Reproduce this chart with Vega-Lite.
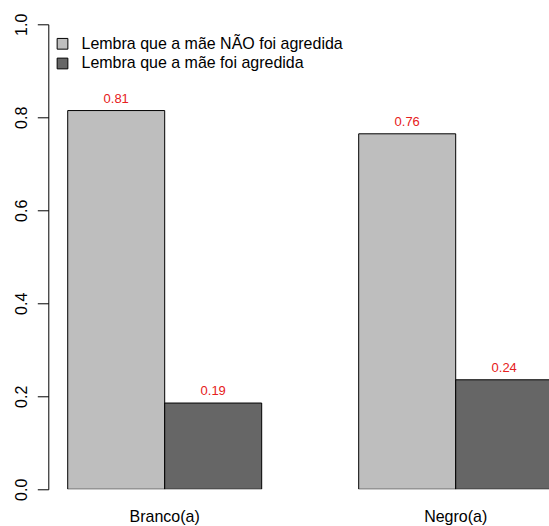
{
  "$schema": "https://vega.github.io/schema/vega-lite/v6.json",
  "width": 501,
  "height": 465,
  "autosize": {"type": "none"},
  "padding": {"left": 48.3, "top": 24.3, "right": 0, "bottom": 36.4},
  "background": "white",
  "config": {"view": {"stroke": null}, "font": "Liberation Sans"},
  "data": {
    "values": [
      {"grupo": "Branco(a)", "lembra": "Lembra que a mãe NÃO foi agredida", "prop": 0.8145},
      {"grupo": "Branco(a)", "lembra": "Lembra que a mãe foi agredida", "prop": 0.1855},
      {"grupo": "Negro(a)", "lembra": "Lembra que a mãe NÃO foi agredida", "prop": 0.7645},
      {"grupo": "Negro(a)", "lembra": "Lembra que a mãe foi agredida", "prop": 0.2355}
    ]
  },
  "encoding": {
    "x": {
      "field": "grupo",
      "type": "nominal",
      "sort": ["Branco(a)", "Negro(a)"],
      "scale": {"range": [0, 523.8], "paddingInner": 0.33333, "paddingOuter": 0.06667},
      "axis": {
        "title": null,
        "labelAngle": 0,
        "domain": false,
        "ticks": false,
        "labelPadding": 19.5,
        "labelFontSize": 16,
        "labelColor": "black",
        "labelFont": "Liberation Sans"
      }
    },
    "xOffset": {
      "field": "lembra",
      "type": "nominal",
      "sort": ["Lembra que a mãe NÃO foi agredida", "Lembra que a mãe foi agredida"],
      "scale": {"paddingInner": 0, "paddingOuter": 0}
    },
    "y": {
      "field": "prop",
      "type": "quantitative",
      "scale": {"domain": [0, 1], "nice": false, "zero": true},
      "axis": {
        "title": null,
        "values": [0, 0.2, 0.4, 0.6, 0.8, 1],
        "format": ".1f",
        "grid": false,
        "tickSize": 11,
        "tickColor": "black",
        "domainColor": "black",
        "labelAngle": -90,
        "labelAlign": "center",
        "labelBaseline": "alphabetic",
        "labelPadding": 11,
        "labelFontSize": 16,
        "labelColor": "black",
        "labelFlush": false,
        "labelOverlap": false,
        "labelFont": "Liberation Sans"
      }
    }
  },
  "layer": [
    {
      "mark": {"type": "bar", "stroke": "black", "strokeWidth": 1, "clip": true},
      "encoding": {
        "color": {
          "field": "lembra",
          "type": "nominal",
          "sort": ["Lembra que a mãe NÃO foi agredida", "Lembra que a mãe foi agredida"],
          "scale": {"range": ["#BEBEBE", "#666666"]},
          "legend": {
            "title": null,
            "orient": "none",
            "legendX": 6.2,
            "legendY": 11.5,
            "symbolType": "square",
            "symbolSize": 115,
            "symbolStrokeColor": "black",
            "symbolStrokeWidth": 1,
            "symbolOpacity": 1,
            "labelFontSize": 16,
            "labelFont": "Liberation Sans",
            "labelColor": "black",
            "labelOffset": 11,
            "labelLimit": 0,
            "rowPadding": 3.7,
            "padding": 0
          }
        }
      }
    },
    {
      "mark": {"type": "text", "color": "#e62020", "fontSize": 13, "dy": -12, "baseline": "middle", "font": "Liberation Sans"},
      "encoding": {
        "text": {"field": "prop", "type": "quantitative", "format": ".2f"}
      }
    }
  ]
}
